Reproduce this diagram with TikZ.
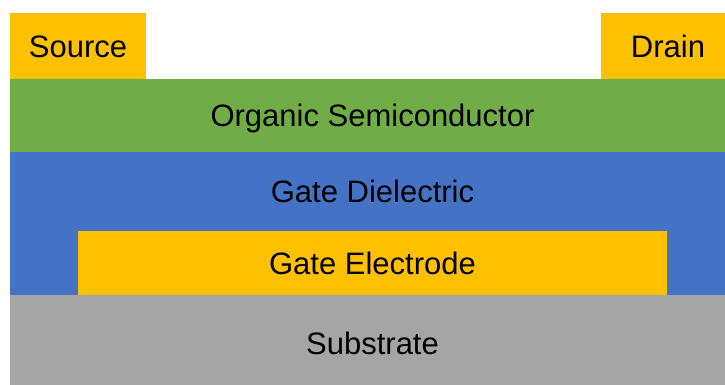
\documentclass[tikz,border=0pt]{standalone}
\usepackage{fontspec}
\setmainfont{Liberation Sans}
\usepackage{xcolor}
\usepackage{tikz}

\definecolor{goldlayer}{HTML}{FFC000}
\definecolor{greenlayer}{HTML}{70AD47}
\definecolor{bluelayer}{HTML}{4472C4}
\definecolor{greylayer}{HTML}{A5A5A5}

\tikzset{
  layer/.style={rectangle, inner sep=0pt, outer sep=0pt, minimum width=725pt,
    font=\fontsize{31}{36}\selectfont, text height=22.2pt, text depth=0pt},
  contact/.style={layer, fill=goldlayer}
}

\begin{document}
\begin{tikzpicture}[x=1pt, y=-1pt]
  \useasboundingbox (0,0) rectangle (725,385);

  \node[layer, fill=bluelayer, minimum height=143pt, anchor=north] (dielectric) at (372.5,152) {};
  \node[layer, minimum width=0pt] (dielname) at (372.5,191) {Gate Dielectric};
  \node[layer, fill=greenlayer, minimum height=73pt] (semi) at (372.5,115.5) {Organic Semiconductor};
  \node[contact, minimum width=589pt, minimum height=65pt] (gate) at (372.5,263) {Gate Electrode};
  \node[layer, fill=greylayer, minimum height=97pt, anchor=north] (substrate) at (372.5,295) {Substrate};

  \node[contact, minimum width=136pt, minimum height=66pt] (source) at (78,46) {Source};
  \node[contact, minimum width=134pt, minimum height=66pt] (drain) at (668,46) {Drain};
\end{tikzpicture}
\end{document}
